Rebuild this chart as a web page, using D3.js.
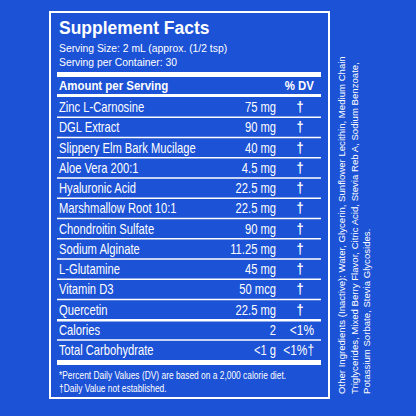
<!DOCTYPE html>
<html><head><meta charset="utf-8">
<script src="https://cdn.jsdelivr.net/npm/d3@7"></script>
<style>body{margin:0;background:#1c52d6}</style>
</head><body>
<script>
const names = ["Zinc L-Carnosine","DGL Extract","Slippery Elm Bark Mucilage","Aloe Vera 200:1","Hyaluronic Acid","Marshmallow Root 10:1","Chondroitin Sulfate","Sodium Alginate","L-Glutamine","Vitamin D3","Quercetin"];
const amounts = ["75 mg","90 mg","40 mg","4.5 mg","22.5 mg","22.5 mg","90 mg","11.25 mg","45 mg","50 mcg","22.5 mg"];
const dvs = ["†","†","†","†","†","†","†","†","†","†","†"];
const extraNames = ["Calories","Total Carbohydrate"];
const extraAmounts = ["2","<1 g"];
const extraDvs = ["<1%","<1%†"];
const otherLines = ["Other Ingredients (Inactive): Water, Glycerin, Sunflower Lecithin, Medium Chain",
  "Triglycerides, Mixed Berry Flavor, Citric Acid, Stevia Reb A, Sodium Benzoate,",
  "Potassium Sorbate, Stevia Glycosides."];

const W = 416, H = 416, white = "#fff";
const sans = "'Liberation Sans', Arial, sans-serif";
const svg = d3.select("body").append("svg").attr("width", W).attr("height", H);
svg.append("rect").attr("width", W).attr("height", H).attr("fill", "#1c52d6");

// panel
svg.append("rect").attr("x", 50).attr("y", 12).attr("width", 279).attr("height", 386)
  .attr("fill", "none").attr("stroke", white).attr("stroke-width", 2);

// condensed text: squeeze horizontally
const t = (x, y, s, size, opts = {}) => {
  const sx = opts.sx || 1;
  return svg.append("text").attr("transform", `translate(${x},${y}) scale(${sx},1)`)
    .attr("fill", white).attr("font-size", size).attr("font-family", sans)
    .attr("font-weight", opts.bold ? "bold" : "normal").attr("text-anchor", opts.anchor || "start").text(s);
};

t(59, 34, "Supplement Facts", 19, {bold: true, sx: 0.92});
t(59, 52, "Serving Size: 2 mL (approx. (1/2 tsp)", 11.5, {sx: 0.9});
t(59, 66, "Serving per Container: 30", 11.5, {sx: 0.9});

const L = 57, R = 321;
const bar = (y, h) => svg.append("rect").attr("x", L).attr("y", y).attr("width", R - L).attr("height", h).attr("fill", white);
bar(72, 5);
t(59, 90, "Amount per Serving", 13, {bold: true, sx: 0.88});
t(314, 90, "% DV", 13, {bold: true, anchor: "end", sx: 0.88});
bar(94, 3);

const rows = names.map((n, i) => ({n, a: amounts[i], d: dvs[i]}))
  .concat(extraNames.map((n, i) => ({n, a: extraAmounts[i], d: extraDvs[i]})));
const y = d3.scalePoint().domain(d3.range(rows.length)).range([107, 350]);

rows.forEach((r, i) => {
  const cy = y(i);
  t(59, cy + 5, r.n, 14, {sx: 0.8});
  t(276, cy + 5, r.a, 14, {anchor: "end", sx: 0.8});
  const dag = r.d === "†";
  t(dag ? 300 : 314, cy + 5, r.d, dag ? 15 : 14, {anchor: dag ? "middle" : "end", bold: dag, sx: 0.85});
  if (i < rows.length - 1) bar(cy + 9.5, i === 10 ? 2.5 : 1.5);
});
bar(360, 5);
t(59, 379, "*Percent Daily Values (DV) are based  on a 2,000 calorie diet.", 10.5, {sx: 0.8});
t(59, 392, "†Daily Value not established.", 10.5, {sx: 0.8});

// other ingredients, rotated
otherLines.forEach((s, i) => {
  svg.append("text").attr("transform", `translate(${345 + i * 12.5},394) rotate(-90)`)
    .attr("fill", white).attr("font-size", 9.6).attr("font-family", sans).text(s);
});
</script>
</body></html>
